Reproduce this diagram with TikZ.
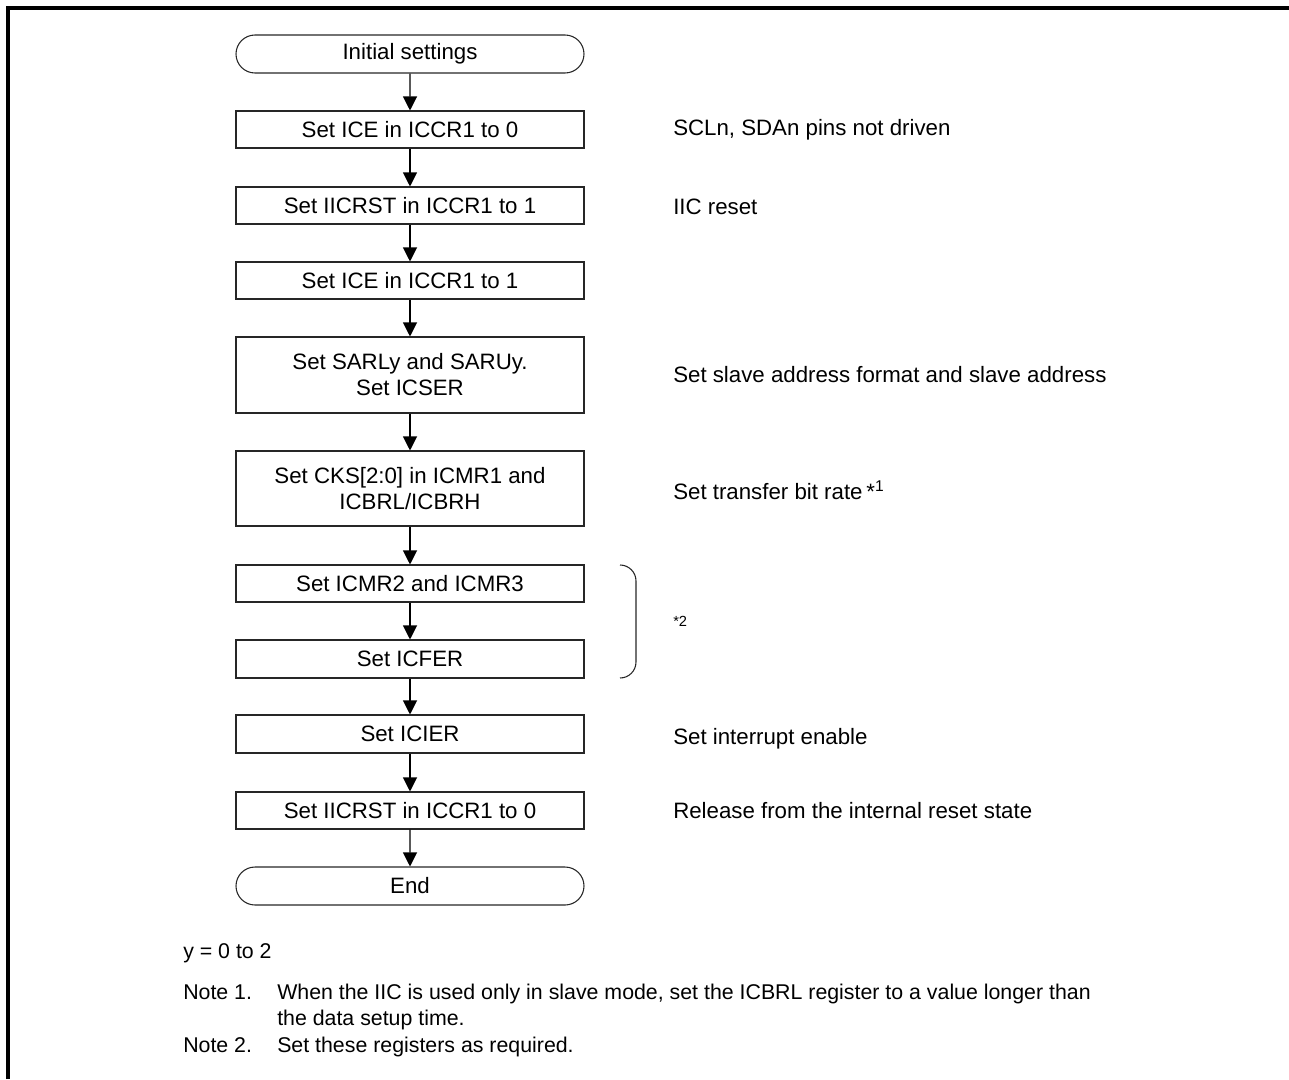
\documentclass[tikz,border=0pt]{standalone}
\usepackage{fontspec}
\setmainfont{Liberation Sans}
\usetikzlibrary{arrows.meta,shapes.misc}
\begin{document}
\begin{tikzpicture}[x=0.75pt,y=-0.75pt,
  stepbox/.style={draw=black!85, line width=0.8pt, minimum width=261pt, minimum height=27.75pt,
    inner sep=0pt, align=center, font=\fontsize{16.7}{19.5}\selectfont},
  term/.style={stepbox, rounded rectangle, minimum height=28.5pt},
  txt/.style={inner sep=0pt, font=\fontsize{16}{19.5}\selectfont},
  ann/.style={inner sep=0pt, anchor=west, font=\fontsize{16.7}{19.5}\selectfont},
  arr/.style={line width=0.8pt, -{Triangle[width=10.5pt,length=10.5pt]}},
  frame/.style={line width=2.6pt}]
\useasboundingbox (0,0) rectangle (1289,1079);
% frame
\draw[frame] (8,1079) -- (8,8) -- (1289,8);
% flow nodes
\node[term] (init) at (410,54) {Initial settings};
\node[stepbox] (b1) at (410,129.5) {Set ICE in ICCR1 to 0};
\node[stepbox] (b2) at (410,205.5) {Set IICRST in ICCR1 to 1};
\node[stepbox] (b3) at (410,280.5) {Set ICE in ICCR1 to 1};
\node[stepbox, minimum height=57pt] (b4) at (410,375) {Set SARLy and SARUy.\\Set ICSER};
\node[stepbox, minimum height=56.25pt] (b5) at (410,488.5) {Set CKS[2:0] in ICMR1 and\\ICBRL/ICBRH};
\node[stepbox] (b6) at (410,583.5) {Set ICMR2 and ICMR3};
\node[stepbox, minimum height=28.5pt] (b7) at (410,659) {Set ICFER};
\node[stepbox, minimum height=28.5pt] (b8) at (410,734) {Set ICIER};
\node[stepbox] (b9) at (410,810.5) {Set IICRST in ICCR1 to 0};
\node[term] (end) at (410,886) {End};
% connectors
\draw[arr] (init) -- (b1);
\draw[arr] (b1) -- (b2);
\draw[arr] (b2) -- (b3);
\draw[arr] (b3) -- (b4);
\draw[arr] (b4) -- (b5);
\draw[arr] (b5) -- (b6);
\draw[arr] (b6) -- (b7);
\draw[arr] (b7) -- (b8);
\draw[arr] (b8) -- (b9);
\draw[arr] (b9) -- (end);
% annotations
\node[ann] (a1) at (673,129.5) {SCLn, SDAn pins not driven};
\node[ann] (a2) at (673,207) {IIC reset};
\node[ann] (a4) at (673,375) {Set slave address format and slave address};
\node[ann] (a5) at (673,490) {Set transfer bit rate\,*\textsuperscript{1}};
\node[ann, font=\fontsize{11}{13}\selectfont] (a6) at (673,621.5) {*2};
\node[ann] (a8) at (673,739) {Set interrupt enable};
\node[ann] (a9) at (673,810.5) {Release from the internal reset state};
% brace
\draw[line width=0.8pt, black!85, rounded corners=12pt] (620,565) -| (636,621.5) |- (620,678);
% notes
\node[txt, anchor=base west] (yn) at (183,958) {y = 0 to 2};
\node[txt, anchor=base west] (n1) at (183,999) {Note 1.};
\node[txt, anchor=base west] (n1t) at (277,999) {When the IIC is used only in slave mode, set the ICBRL register to a value longer than};
\node[txt, anchor=base west] (n1u) at (277,1025) {the data setup time.};
\node[txt, anchor=base west] (n2) at (183,1052) {Note 2.};
\node[txt, anchor=base west] (n2t) at (277,1052) {Set these registers as required.};
\end{tikzpicture}
\end{document}
